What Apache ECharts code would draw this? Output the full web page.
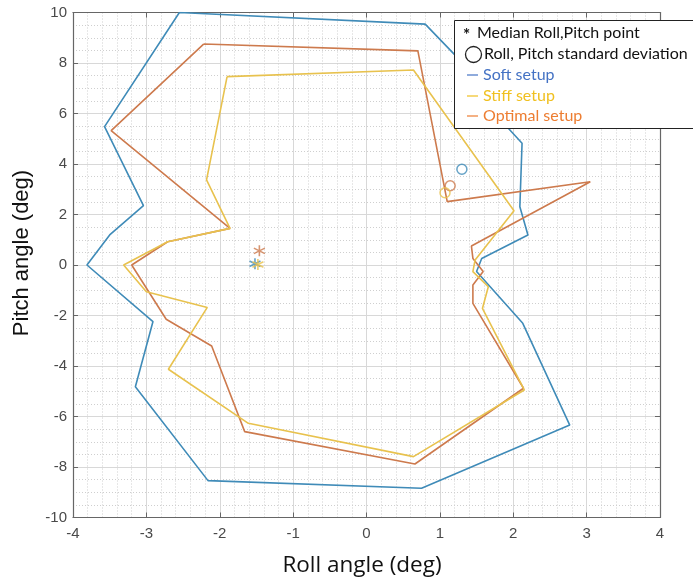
<!DOCTYPE html>
<html>
<head>
<meta charset="utf-8">
<script src="https://cdn.jsdelivr.net/npm/echarts@6/dist/echarts.min.js"></script>
<style>html,body{margin:0;padding:0;background:#fff;}#c{width:693px;height:583px;}</style>
</head>
<body>
<div id="c"></div>
<script>
// ---- data ----
const softSetup = [[-2.55,10.0],[0.8,9.54],[1.45,7.58],[1.82,5.77],[2.12,4.82],[2.09,2.31],[2.2,1.19],[1.57,0.26],[1.5,-0.26],[2.13,-2.31],[2.77,-6.34],[0.75,-8.84],[-2.16,-8.54],[-3.15,-4.82],[-2.91,-2.24],[-3.81,0],[-3.5,1.19],[-3.04,2.35],[-3.57,5.48],[-2.55,10.0]];
const optimalSetup = [[-2.22,8.75],[0.70,8.48],[1.10,2.51],[3.05,3.30],[1.43,0.75],[1.45,0.26],[1.59,-0.26],[1.45,-0.79],[1.45,-1.52],[2.14,-4.88],[0.66,-7.88],[-1.66,-6.6],[-2.11,-3.21],[-2.73,-2.15],[-3.2,0],[-2.71,0.92],[-1.86,1.45],[-3.48,5.32],[-2.22,8.75]];
const stiffSetup = [[-1.90,7.46],[0.64,7.72],[2.01,2.15],[1.48,0.2],[1.45,-0.26],[1.66,-0.86],[1.58,-1.72],[2.15,-4.95],[0.64,-7.59],[-1.61,-6.27],[-2.70,-4.13],[-2.17,-1.68],[-3.0,-1.06],[-3.31,0],[-2.71,0.92],[-1.86,1.45],[-2.18,3.37],[-1.90,7.46]];
const medianSoft = [[-1.52,0.05]];
const medianStiff = [[-1.48,0.02]];
const medianOptimal = [[-1.46,0.56]];
const stdSoft = [[1.30,3.79]];
const stdOptimal = [[1.14,3.14]];
const stdStiff = [[1.07,2.86]];
const xTicks = [-4,-3,-2,-1,0,1,2,3,4];
const yTicks = [-10,-8,-6,-4,-2,0,2,4,6,8,10];
const xTitle = 'Roll angle (deg)';
const yTitle = 'Pitch angle (deg)';
const legendItems = ['Median Roll,Pitch point','Roll, Pitch standard deviation','Soft setup','Stiff setup','Optimal setup'];

const C_BLUE = '#3f8bb8', C_ORANGE = '#cd7a4d', C_YELLOW = '#e8c24e';
const STAR = 'path://M0,-5L0,5M-4.33,-2.5L4.33,2.5M-4.33,2.5L4.33,-2.5';

const chart = echarts.init(document.getElementById('c'), null, {renderer:'canvas'});

function lineS(name, data, color) {
  return {name, type:'line', data, showSymbol:false, symbol:'none', lineStyle:{color, width:1.6}, animation:false, z:3};
}
function starS(data, color) {
  return {type:'scatter', data, symbol:STAR, symbolSize:11, itemStyle:{color:'rgba(0,0,0,0)', borderColor:color, borderWidth:1.6}, animation:false, z:4};
}
function circS(data, color) {
  return {type:'scatter', data, symbol:'circle', symbolSize:10, itemStyle:{color:'rgba(0,0,0,0)', borderColor:color, borderWidth:1.5}, animation:false, z:4};
}
const tickFont = {fontFamily:'Liberation Sans', fontSize:15, color:'#4a4a4a'};
const axisLine = {show:true, onZero:false, lineStyle:{color:'#666', width:1.2}};
const tick = {show:true, inside:true, length:5, lineStyle:{color:'#666'}};
const baseX = {type:'value', min:xTicks[0], max:xTicks[xTicks.length-1], interval:1};
const baseY = {type:'value', min:yTicks[0], max:yTicks[yTicks.length-1], interval:2};
const legendFont = '16px Lato';

chart.setOption({
  backgroundColor:'#fff',
  animation:false,
  grid:{left:73, right:33, top:12.5, bottom:65.5, containLabel:false},
  xAxis:[
    Object.assign({}, baseX, {position:'bottom', axisLine, axisTick:tick,
      axisLabel:Object.assign({margin:9}, tickFont),
      splitLine:{show:true, lineStyle:{color:'#d8d8d8', width:1}},
      minorTick:{show:false, splitNumber:5},
      minorSplitLine:{show:true, lineStyle:{color:'#cfcfcf', type:[1,2], width:1}}}),
    Object.assign({}, baseX, {position:'top', axisLine, axisTick:tick,
      axisLabel:{show:false}, splitLine:{show:false}})
  ],
  yAxis:[
    Object.assign({}, baseY, {position:'left', axisLine, axisTick:tick,
      axisLabel:Object.assign({margin:6}, tickFont),
      splitLine:{show:true, lineStyle:{color:'#d8d8d8', width:1}},
      minorTick:{show:false, splitNumber:4},
      minorSplitLine:{show:true, lineStyle:{color:'#cfcfcf', type:[1,2], width:1}}}),
    Object.assign({}, baseY, {position:'right', axisLine, axisTick:tick,
      axisLabel:{show:false}, splitLine:{show:false}})
  ],
  series:[
    lineS('Soft setup', softSetup, C_BLUE),
    lineS('Optimal setup', optimalSetup, C_ORANGE),
    lineS('Stiff setup', stiffSetup, C_YELLOW),
    starS(medianSoft, C_BLUE),
    starS(medianStiff, C_YELLOW),
    starS(medianOptimal, C_ORANGE),
    circS(stdSoft, C_BLUE),
    circS(stdOptimal, C_ORANGE),
    circS(stdStiff, C_YELLOW)
  ],
  graphic:[
    {type:'text', z:50, x:362, y:566, style:{text:xTitle, font:'22.5px "Open Sans"', fill:'#111', align:'center', verticalAlign:'middle'}},
    {type:'text', z:50, x:22, y:253, rotation:Math.PI/2, style:{text:yTitle, font:'22px "Liberation Sans"', fill:'#111', align:'center', verticalAlign:'middle'}},
    {type:'rect', z:100, shape:{x:454.5, y:20.5, width:250, height:108}, style:{fill:'#fff', stroke:'#222', lineWidth:1}},
    {type:'text', z:101, x:463, y:36, style:{text:'*', font:'bold 17px Lato', fill:'#111', verticalAlign:'middle'}},
    {type:'text', z:101, x:477, y:33, style:{text:legendItems[0], font:legendFont, fill:'#111', verticalAlign:'middle'}},
    {type:'circle', z:101, shape:{cx:473.5, cy:54.5, r:8}, style:{fill:'none', stroke:'#222', lineWidth:1.3}},
    {type:'text', z:101, x:484, y:54, style:{text:legendItems[1], font:legendFont, fill:'#111', verticalAlign:'middle'}},
    {type:'line', z:101, shape:{x1:467, y1:75, x2:478, y2:75}, style:{stroke:'#4472c4', lineWidth:1.2}},
    {type:'text', z:101, x:483, y:75, style:{text:legendItems[2], font:legendFont, fill:'#4472c4', verticalAlign:'middle'}},
    {type:'line', z:101, shape:{x1:467, y1:96, x2:478, y2:96}, style:{stroke:'#f0c020', lineWidth:1.2}},
    {type:'text', z:101, x:483, y:96, style:{text:legendItems[3], font:legendFont, fill:'#f0c020', verticalAlign:'middle'}},
    {type:'line', z:101, shape:{x1:467, y1:116, x2:478, y2:116}, style:{stroke:'#ed7d31', lineWidth:1.2}},
    {type:'text', z:101, x:483, y:116, style:{text:legendItems[4], font:legendFont, fill:'#ed7d31', verticalAlign:'middle'}}
  ]
});
</script>
</body>
</html>
